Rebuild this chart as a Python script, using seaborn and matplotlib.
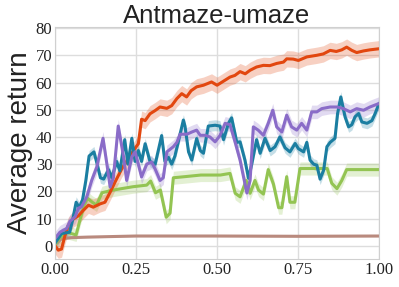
import numpy as np
import matplotlib
matplotlib.use("Agg")
import matplotlib.pyplot as plt
import seaborn as sns

# curves (x = fraction of training, y = average return)
red_x = [0, 0.01, 0.02, 0.03, 0.041, 0.057, 0.072, 0.087, 0.103, 0.118, 0.139, 0.154, 0.17, 0.185,
         0.206, 0.226, 0.242, 0.257, 0.267, 0.278, 0.293, 0.309, 0.324, 0.345, 0.36, 0.376, 0.391,
         0.406, 0.42, 0.437, 0.458, 0.483, 0.5, 0.52, 0.54, 0.555, 0.571, 0.587, 0.602, 0.622, 0.643,
         0.663, 0.684, 0.705, 0.715, 0.735, 0.751, 0.777, 0.808, 0.828, 0.849, 0.868, 0.885, 0.9,
         0.916, 0.931, 0.952, 0.972, 1.0]
red_y = [0, -1.6, -1.2, 3.5, 7.5, 9.9, 11, 13, 14.9, 14.2, 15.4, 16, 19.7, 23.4,
         28.3, 32, 35, 37.5, 46.5, 46, 48.5, 49.7, 51, 50.5, 51.5, 54.1, 55.9,
         54.7, 57, 58.4, 59, 60.2, 59, 60.5, 62, 62.6, 64, 63.2, 64.5, 65.7, 66.3,
         66.2, 67, 67.5, 68.7, 68.6, 68.1, 69.4, 70, 70.5, 71.8, 71.4, 72, 73,
         71.8, 71, 71.6, 72, 72.4]

teal_x = [0, 0.02, 0.045, 0.055, 0.065, 0.075, 0.085, 0.095, 0.105, 0.12, 0.13, 0.14, 0.15, 0.165,
          0.175, 0.19, 0.2, 0.215, 0.225, 0.237, 0.247, 0.257, 0.267, 0.278, 0.293, 0.309, 0.329,
          0.339, 0.35, 0.36, 0.37, 0.396, 0.401, 0.412, 0.422, 0.437, 0.448, 0.458, 0.473, 0.494,
          0.509, 0.52, 0.535, 0.545, 0.561, 0.571, 0.586, 0.597, 0.607, 0.622, 0.633, 0.648, 0.664,
          0.679, 0.694, 0.71, 0.725, 0.741, 0.751, 0.767, 0.777, 0.787, 0.798, 0.808, 0.818, 0.829,
          0.839, 0.849, 0.864, 0.872, 0.882, 0.895, 0.906, 0.916, 0.926, 0.937, 0.947, 0.963, 0.978,
          0.988, 1.0]
teal_y = [1, 4.5, 5, 10, 16, 14, 17, 24, 33, 34.5, 30, 25, 24.5, 28,
          25, 31, 27.5, 39, 30, 39.5, 31, 35, 31, 37.5, 31, 30, 40.5,
          31, 32.5, 30, 33, 46.2, 44, 34.5, 31.5, 39.4, 35, 34, 44, 44.3,
          44, 39, 45, 47, 38, 38.2, 31.5, 24.8, 30, 39, 34, 39.5, 35,
          36.4, 40, 36, 34.5, 37.6, 35.7, 34.5, 38, 31.5, 30, 29.6, 24.5, 27.8,
          36.4, 38, 39.5, 48.6, 54.7, 47.4, 43.7, 44.5, 47.4, 48.6, 45.5, 45, 46,
          48.6, 52.3]

purple_x = [0, 0.015, 0.036, 0.046, 0.062, 0.072, 0.082, 0.098, 0.113, 0.129, 0.148, 0.16, 0.17, 0.18,
            0.195, 0.211, 0.221, 0.237, 0.247, 0.257, 0.267, 0.283, 0.298, 0.309, 0.324, 0.334, 0.345,
            0.365, 0.376, 0.386, 0.407, 0.422, 0.437, 0.448, 0.463, 0.478, 0.494, 0.509, 0.525, 0.54,
            0.556, 0.571, 0.592, 0.602, 0.612, 0.627, 0.643, 0.658, 0.672, 0.684, 0.7, 0.715, 0.73,
            0.746, 0.761, 0.777, 0.792, 0.808, 0.823, 0.849, 0.87, 0.89, 0.911, 0.931, 0.952, 0.972,
            1.0]
purple_y = [2.7, 5, 6.4, 9, 10.7, 13.8, 14.4, 18, 24, 29, 39.5, 30, 21.6, 25,
            44, 33, 24, 32.7, 34.5, 30, 25.3, 30, 30.8, 28.2, 24, 25, 34.5,
            36.4, 38, 41, 41, 41.8, 42.5, 40.6, 40.6, 40, 38.2, 40.5, 45, 44.5,
            38, 31.5, 19.4, 24, 43.7, 42.5, 40.6, 45, 49.8, 43.7, 41.8, 48, 43.7,
            42.5, 45, 42.5, 49.2, 49.2, 50.4, 51, 51, 50.4, 49.2, 50.4, 49.8, 51,
            52.3]

green_x = [0, 0.015, 0.035, 0.05, 0.065, 0.078, 0.09, 0.1, 0.115, 0.128, 0.145, 0.18, 0.24, 0.283,
           0.295, 0.31, 0.325, 0.343, 0.355, 0.365, 0.4, 0.45, 0.51, 0.54, 0.556, 0.571, 0.59,
           0.602, 0.617, 0.628, 0.643, 0.658, 0.674, 0.69, 0.7, 0.715, 0.725, 0.74, 0.756, 0.84,
           0.854, 0.87, 0.885, 0.9, 1.0]
green_y = [0.5, 3, 5, 4.5, 4, 10, 15, 17.5, 16, 15, 19.5, 20.5, 21.7, 22.3,
           23.8, 19.5, 20.5, 10.5, 12, 25, 25.4, 26, 26, 26.6, 19.3, 18, 24,
           19.3, 24, 20.5, 19, 28, 22.7, 14, 14, 25.4, 16, 16, 28.4, 28.4,
           23, 21, 24, 28, 28]

brown_x = [0, 0.02, 0.05, 0.1, 0.25, 0.5, 0.75, 1.0]
brown_y = [0.5, 2.6, 3.0, 3.2, 3.6, 3.6, 3.5, 3.6]

# half-width of the shaded band for each method
band = {"red": 3.0, "teal": 2.0, "purple": 2.5, "green": 2.4, "brown": 0.3}

colors = {"red": "#e2470f", "teal": "#1b7ea1", "purple": "#8a6cc8",
          "green": "#93c452", "brown": "#b98a7e"}

series = [("brown", brown_x, brown_y), ("green", green_x, green_y),
          ("red", red_x, red_y), ("teal", teal_x, teal_y), ("purple", purple_x, purple_y)]

sns.set_style("whitegrid")
fig = plt.figure(figsize=(3.99, 2.87), dpi=100)
ax = fig.add_axes([0.138, 0.098, 0.812, 0.808])

for name, xs, ys in series:
    xs = np.array(xs)
    ys = np.array(ys)
    ax.fill_between(xs, ys - band[name], ys + band[name], color=colors[name],
                    alpha=0.25, linewidth=0)
    sns.lineplot(x=xs, y=ys, ax=ax, color=colors[name], linewidth=2.2,
                 estimator=None, sort=False)

ax.set_xlim(0, 1)
ax.set_ylim(-4.8, 80.4)
ax.set_xticks([0, 0.25, 0.5, 0.75, 1.0])
ax.set_xticklabels(["0.00", "0.25", "0.50", "0.75", "1.00"])
ax.set_yticks(range(0, 81, 10))
for lab in ax.get_xticklabels() + ax.get_yticklabels():
    lab.set_fontfamily("Liberation Serif")
    lab.set_fontsize(12)
    lab.set_color("#222222")
ax.tick_params(axis="both", pad=2, length=0)
ax.set_title("Antmaze-umaze", fontsize=18.5, fontfamily="Liberation Sans", color="#222222", pad=3)
ax.set_ylabel("Average return", fontsize=20, fontfamily="Liberation Sans", color="#222222", labelpad=2)
for sp in ax.spines.values():
    sp.set_color("#d0d0d0")
ax.grid(color="#dddddd", linewidth=1)

fig.savefig("out.png", dpi=100)
